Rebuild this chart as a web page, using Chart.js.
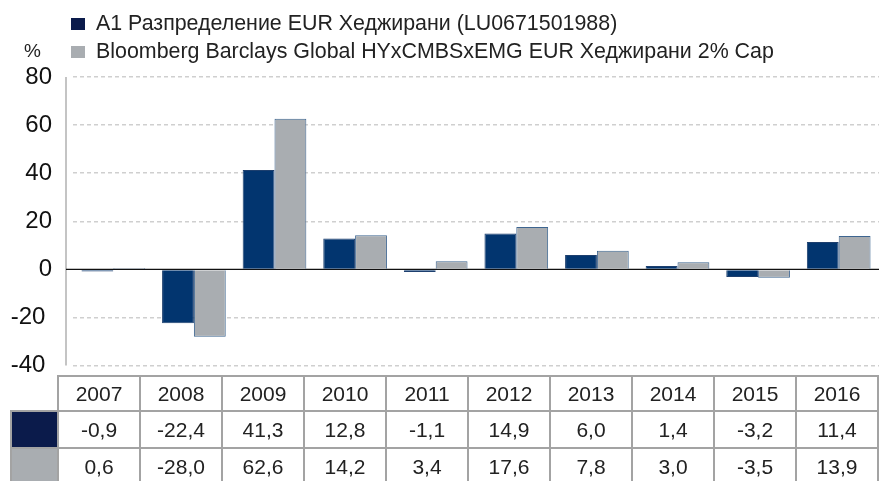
<!DOCTYPE html>
<html>
<head>
<meta charset="utf-8">
<script src="https://cdn.jsdelivr.net/npm/chart.js@4"></script>
<style>
    body { margin: 0; background: #fff; font-family: "Liberation Sans", Arial, sans-serif; color: #222; }
    #wrap { position: relative; width: 879px; height: 481px; overflow: hidden; }
    #chartBox { position: absolute; left: 0; top: 0; width: 879px; height: 401px; }
    .legend-text { position: absolute; left: 96px; font-size: 21.4px; line-height: 22px; white-space: nowrap; }
    .legend-box { position: absolute; left: 71px; width: 14px; height: 12px; }
    #pct { position: absolute; left: 24px; top: 41px; font-size: 19px; line-height: 19px; }
    #dataTable { position: absolute; left: 10px; top: 375px; border-collapse: collapse; font-size: 21px; }
    #dataTable td { border: 2px solid #a3a3a3; text-align: center; padding: 0; width: 80px; }
    #dataTable td.sw { width: 45px; }
    #dataTable td.blank { border: none; border-bottom: 2px solid #a3a3a3; }
    #dataTable tr.head td { height: 33px; }
    #dataTable tr.r1 td { height: 35px; }
    #dataTable tr.r2 td { height: 35px; }
</style>
</head>
<body>
<div id="wrap">
    <div id="chartBox"><canvas id="chart"></canvas></div>
    <div class="legend-box" style="top: 18px; background:#0b1b4b"></div>
    <div class="legend-text" style="top: 12px;">A1 Разпределение EUR Хеджирани (LU0671501988)</div>
    <div class="legend-box" style="top: 46px; background:#a9adb1"></div>
    <div class="legend-text" style="top: 39.5px;">Bloomberg Barclays Global HYxCMBSxEMG EUR Хеджирани 2% Cap</div>
    <div id="pct">%</div>
    <table id="dataTable"></table>
</div>
<script>
const years = ['2007', '2008', '2009', '2010', '2011', '2012', '2013', '2014', '2015', '2016'];
const fundValues = [-0.9, -22.4, 41.3, 12.8, -1.1, 14.9, 6.0, 1.4, -3.2, 11.4];
const indexValues = [0.6, -28.0, 62.6, 14.2, 3.4, 17.6, 7.8, 3.0, -3.5, 13.9];
const fundLabel = 'A1 Разпределение EUR Хеджирани (LU0671501988)';
const indexLabel = 'Bloomberg Barclays Global HYxCMBSxEMG EUR Хеджирани 2% Cap';

const NAVY = '#02356f';
const NAVY_DARK = '#0b1b4b';
const GREY = '#a9adb1';

// Build the data table under the chart
function fmt(v) {
    return v.toFixed(1).replace('.', ',');
}

function buildTable() {
    const table = document.getElementById('dataTable');
    let html = '<tr class="head"><td class="sw blank"></td>';
    years.forEach(y => { html += `<td>${y}</td>`; });
    html += '</tr><tr class="r1"><td class="sw" style="background:' + NAVY_DARK + '"></td>';
    fundValues.forEach(v => { html += `<td>${fmt(v)}</td>`; });
    html += '</tr><tr class="r2"><td class="sw" style="background:' + GREY + '"></td>';
    indexValues.forEach(v => { html += `<td>${fmt(v)}</td>`; });
    html += '</tr>';
    table.innerHTML = html;
}

// Axis line left of the plot and the solid zero line
const axisLines = {
    id: 'axisLines',
    beforeDatasetsDraw(chart) {
        const { ctx, chartArea, scales } = chart;
        const y0 = scales.y.getPixelForValue(0);
        const ax = chartArea.left - 7;
        ctx.save();
        ctx.strokeStyle = '#b0b0b0';
        ctx.lineWidth = 1.5;
        ctx.beginPath();
        ctx.moveTo(ax, chartArea.top);
        ctx.lineTo(ax, chartArea.bottom);
        ctx.stroke();
        ctx.strokeStyle = '#111';
        ctx.lineWidth = 1.2;
        ctx.beginPath();
        ctx.moveTo(ax, y0);
        ctx.lineTo(chartArea.right, y0);
        ctx.stroke();
        ctx.restore();
    }
};

buildTable();

const ctx = document.getElementById('chart').getContext('2d');
new Chart(ctx, {
    type: 'bar',
    data: {
        labels: years,
        datasets: [{
            label: fundLabel,
            data: fundValues,
            backgroundColor: NAVY,
            borderColor: '#1d3f6e',
            borderWidth: 1,
            barPercentage: 1,
            categoryPercentage: 0.79
        }, {
            label: indexLabel,
            data: indexValues,
            backgroundColor: GREY,
            borderColor: '#3d6590',
            borderWidth: 1,
            barPercentage: 1,
            categoryPercentage: 0.79
        }]
    },
    options: {
        responsive: true,
        maintainAspectRatio: false,
        animation: false,
        layout: { padding: { top: 77, bottom: 12, right: 0, left: 0 } },
        plugins: {
            legend: { display: false },
            tooltip: { enabled: false }
        },
        scales: {
            x: { display: false },
            y: {
                min: -40,
                max: 80,
                afterFit: (scale) => { scale.width = 73; },
                ticks: {
                    stepSize: 20,
                    padding: 21,
                    color: '#111',
                    // negative labels sit a little further left in the original
                    callback: (v) => v < 0 ? v + '\u00a0' : String(v),
                    font: { family: '"Liberation Sans", Arial, sans-serif', size: 24 }
                },
                grid: {
                    drawTicks: false,
                    color: (c) => c.tick && c.tick.value === 0 ? 'rgba(0,0,0,0)' : '#cfcfcf',
                    lineWidth: 1.5
                },
                border: { display: false, dash: [4, 3] }
            }
        }
    },
    plugins: [axisLines]
});
</script>
</body>
</html>
